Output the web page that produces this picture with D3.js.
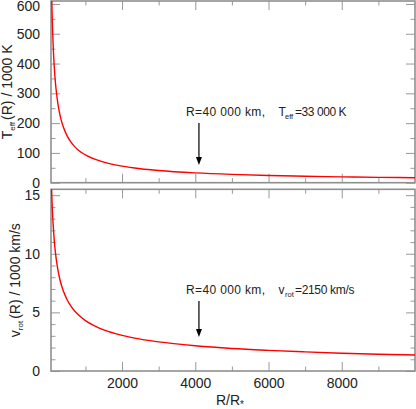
<!DOCTYPE html>
<html><head><meta charset="utf-8">
<script src="https://cdn.jsdelivr.net/npm/d3@7"></script>
<style>
body{margin:0;background:#fff}
svg text{font-family:"Liberation Sans",Arial,Helvetica,sans-serif;fill:#222}
</style>
</head><body>
<svg id="chart" width="416" height="409"></svg>
<script>
// ---- data ----
const rValues    = [60, 70, 80, 90, 100, 115, 130, 150, 175, 200, 250, 300, 350, 400, 500, 600, 700, 800, 1000, 1250, 1500, 2000, 2500, 3000, 4000, 5000, 6000, 7000, 8000, 9000, 10000];
const teffValues = [770, 686, 620, 568, 525, 473, 431, 387, 345, 312, 264, 230, 205, 186, 157, 137, 122, 110, 93.3, 78.9, 68.9, 55.5, 46.9, 40.9, 33.0, 27.9, 24.3, 21.7, 19.6, 18.0, 16.6];
const vrotValues = [17.55, 16.25, 15.2, 14.33, 13.6, 12.68, 11.93, 11.1, 10.28, 9.61, 8.6, 7.85, 7.27, 6.8, 6.08, 5.55, 5.14, 4.81, 4.3, 3.85, 3.51, 3.04, 2.72, 2.48, 2.15, 1.92, 1.76, 1.63, 1.52, 1.43, 1.36];
const xMajorTicks = [2000, 4000, 6000, 8000];
const xMinorTicks = [1000, 3000, 5000, 7000, 9000];
const tMajorTicks = [0, 100, 200, 300, 400, 500, 600];
const tMinorTicks = [50, 150, 250, 350, 450, 550];
const vMajorTicks = [0, 5, 10, 15];
const vMinorTicks = [1, 2, 3, 4, 6, 7, 8, 9, 11, 12, 13, 14];
const markerR = 4100;

const svg = d3.select("#chart");
const L = 51, R = 415;
const x = d3.scaleLinear().domain([60, 10000]).range([L, R]);

const panels = [
  {top: 1, bottom: 182.7, domain: [0, 610], values: teffValues, major: tMajorTicks, minor: tMinorTicks,
   xLabels: false, title: ["T", "eff", "(R) / 1000 K"], titleX: 12,
   note: ["R=40 000 km,", "T", "eff", "=33 000 K"], noteY: 116, arrow: [123, 165], restLen: 51.6},
  {top: 189.3, bottom: 371, domain: [0, 15.5], values: vrotValues, major: vMajorTicks, minor: vMinorTicks,
   xLabels: true, title: ["v", "rot", "(R) / 1000 km/s"], titleX: 20,
   note: ["R=40 000 km,", "v", "rot", "=2150 km/s"], noteY: 294, arrow: [301, 337], restLen: 59.4}
];

panels.forEach((p, i) => {
  const y = d3.scaleLinear().domain(p.domain).range([p.bottom, p.top]);
  const g = svg.append("g");
  const clipId = "clip" + i;
  svg.append("clipPath").attr("id", clipId).append("rect")
     .attr("x", L).attr("y", p.top).attr("width", R - L).attr("height", p.bottom - p.top);

  function styleAxis(sel) {
    sel.select(".domain").remove();
    sel.selectAll(".tick line").attr("stroke", "#999").attr("stroke-width", 1);
    sel.selectAll(".tick text").attr("font-size", 14).attr("fill", "#222")
       .attr("font-family", '"Liberation Sans",Arial,sans-serif');
  }
  // bottom
  g.append("g").attr("transform", `translate(0,${p.bottom})`)
    .call(d3.axisBottom(x).tickValues(xMajorTicks).tickSizeInner(-9).tickSizeOuter(0).tickPadding(7)
      .tickFormat(p.xLabels ? d3.format("d") : () => "")).call(styleAxis);
  g.append("g").attr("transform", `translate(0,${p.bottom})`)
    .call(d3.axisBottom(x).tickValues(xMinorTicks).tickSizeInner(-4.5).tickSizeOuter(0).tickFormat(() => "")).call(styleAxis);
  // top
  g.append("g").attr("transform", `translate(0,${p.top})`)
    .call(d3.axisTop(x).tickValues(xMajorTicks).tickSizeInner(-9).tickSizeOuter(0).tickFormat(() => "")).call(styleAxis);
  g.append("g").attr("transform", `translate(0,${p.top})`)
    .call(d3.axisTop(x).tickValues(xMinorTicks).tickSizeInner(-4.5).tickSizeOuter(0).tickFormat(() => "")).call(styleAxis);
  // left
  const leftAx = g.append("g").attr("transform", `translate(${L},0)`)
    .call(d3.axisLeft(y).tickValues(p.major).tickSizeInner(-9).tickSizeOuter(0).tickPadding(11).tickFormat(d3.format("d"))).call(styleAxis);
  // keep the top label inside the picture, as in the reference
  leftAx.selectAll(".tick text").filter(d => y(d) < 6).attr("dy", "0.8em").attr("y", -5);
  g.append("g").attr("transform", `translate(${L},0)`)
    .call(d3.axisLeft(y).tickValues(p.minor).tickSizeInner(-4.5).tickSizeOuter(0).tickFormat(() => "")).call(styleAxis);
  // right
  g.append("g").attr("transform", `translate(${R},0)`)
    .call(d3.axisRight(y).tickValues(p.major).tickSizeInner(-9).tickSizeOuter(0).tickFormat(() => "")).call(styleAxis);
  g.append("g").attr("transform", `translate(${R},0)`)
    .call(d3.axisRight(y).tickValues(p.minor).tickSizeInner(-4.5).tickSizeOuter(0).tickFormat(() => "")).call(styleAxis);

  // frame
  g.append("rect").attr("x", L).attr("y", p.top).attr("width", R - L).attr("height", p.bottom - p.top)
    .attr("fill", "none").attr("stroke", "#8f8f8f").attr("stroke-width", 1.6);

  // curve
  const line = d3.line().x((d, k) => x(rValues[k])).y(d => y(d)).curve(d3.curveMonotoneX);
  g.append("path").datum(p.values).attr("d", line).attr("clip-path", `url(#${clipId})`)
    .attr("fill", "none").attr("stroke", "#ff0000").attr("stroke-width", 1.4);

  // y-axis title
  const cy = (p.top + p.bottom) / 2;
  const t = g.append("text").attr("transform", `translate(${p.titleX},${cy}) rotate(-90)`)
    .attr("text-anchor", "middle").attr("font-size", 14);
  t.append("tspan").text(p.title[0]);
  t.append("tspan").attr("font-size", 8).attr("dy", 3).text(p.title[1]);
  t.append("tspan").attr("dy", -3).attr("dx", 2).text(p.title[2]);

  // annotation
  g.append("text").attr("x", 186).attr("y", p.noteY).attr("font-size", 12)
    .attr("textLength", 79).attr("lengthAdjust", "spacing").text(p.note[0]);
  g.append("text").attr("x", 278.5).attr("y", p.noteY).attr("font-size", 12).text(p.note[1]);
  g.append("text").attr("x", 285).attr("y", p.noteY + 2.5).attr("font-size", 7.5).text(p.note[2]);
  g.append("text").attr("x", 295).attr("y", p.noteY).attr("font-size", 12)
    .attr("textLength", p.restLen).attr("lengthAdjust", "spacing").text(p.note[3]);

  // arrow
  const ax = x(markerR);
  g.append("line").attr("x1", ax).attr("x2", ax).attr("y1", p.arrow[0]).attr("y2", p.arrow[1] - 6)
    .attr("stroke", "#000").attr("stroke-width", 1.2);
  g.append("path").attr("d", `M${ax - 3},${p.arrow[1] - 8} L${ax + 3},${p.arrow[1] - 8} L${ax},${p.arrow[1]} Z`)
    .attr("fill", "#000");
});

// x-axis title
const xt = svg.append("text").attr("x", 230).attr("y", 405).attr("text-anchor", "middle").attr("font-size", 14);
xt.append("tspan").text("R/R");
xt.append("tspan").attr("font-size", 10).attr("dy", 3).text("*");
</script>
</body></html>
